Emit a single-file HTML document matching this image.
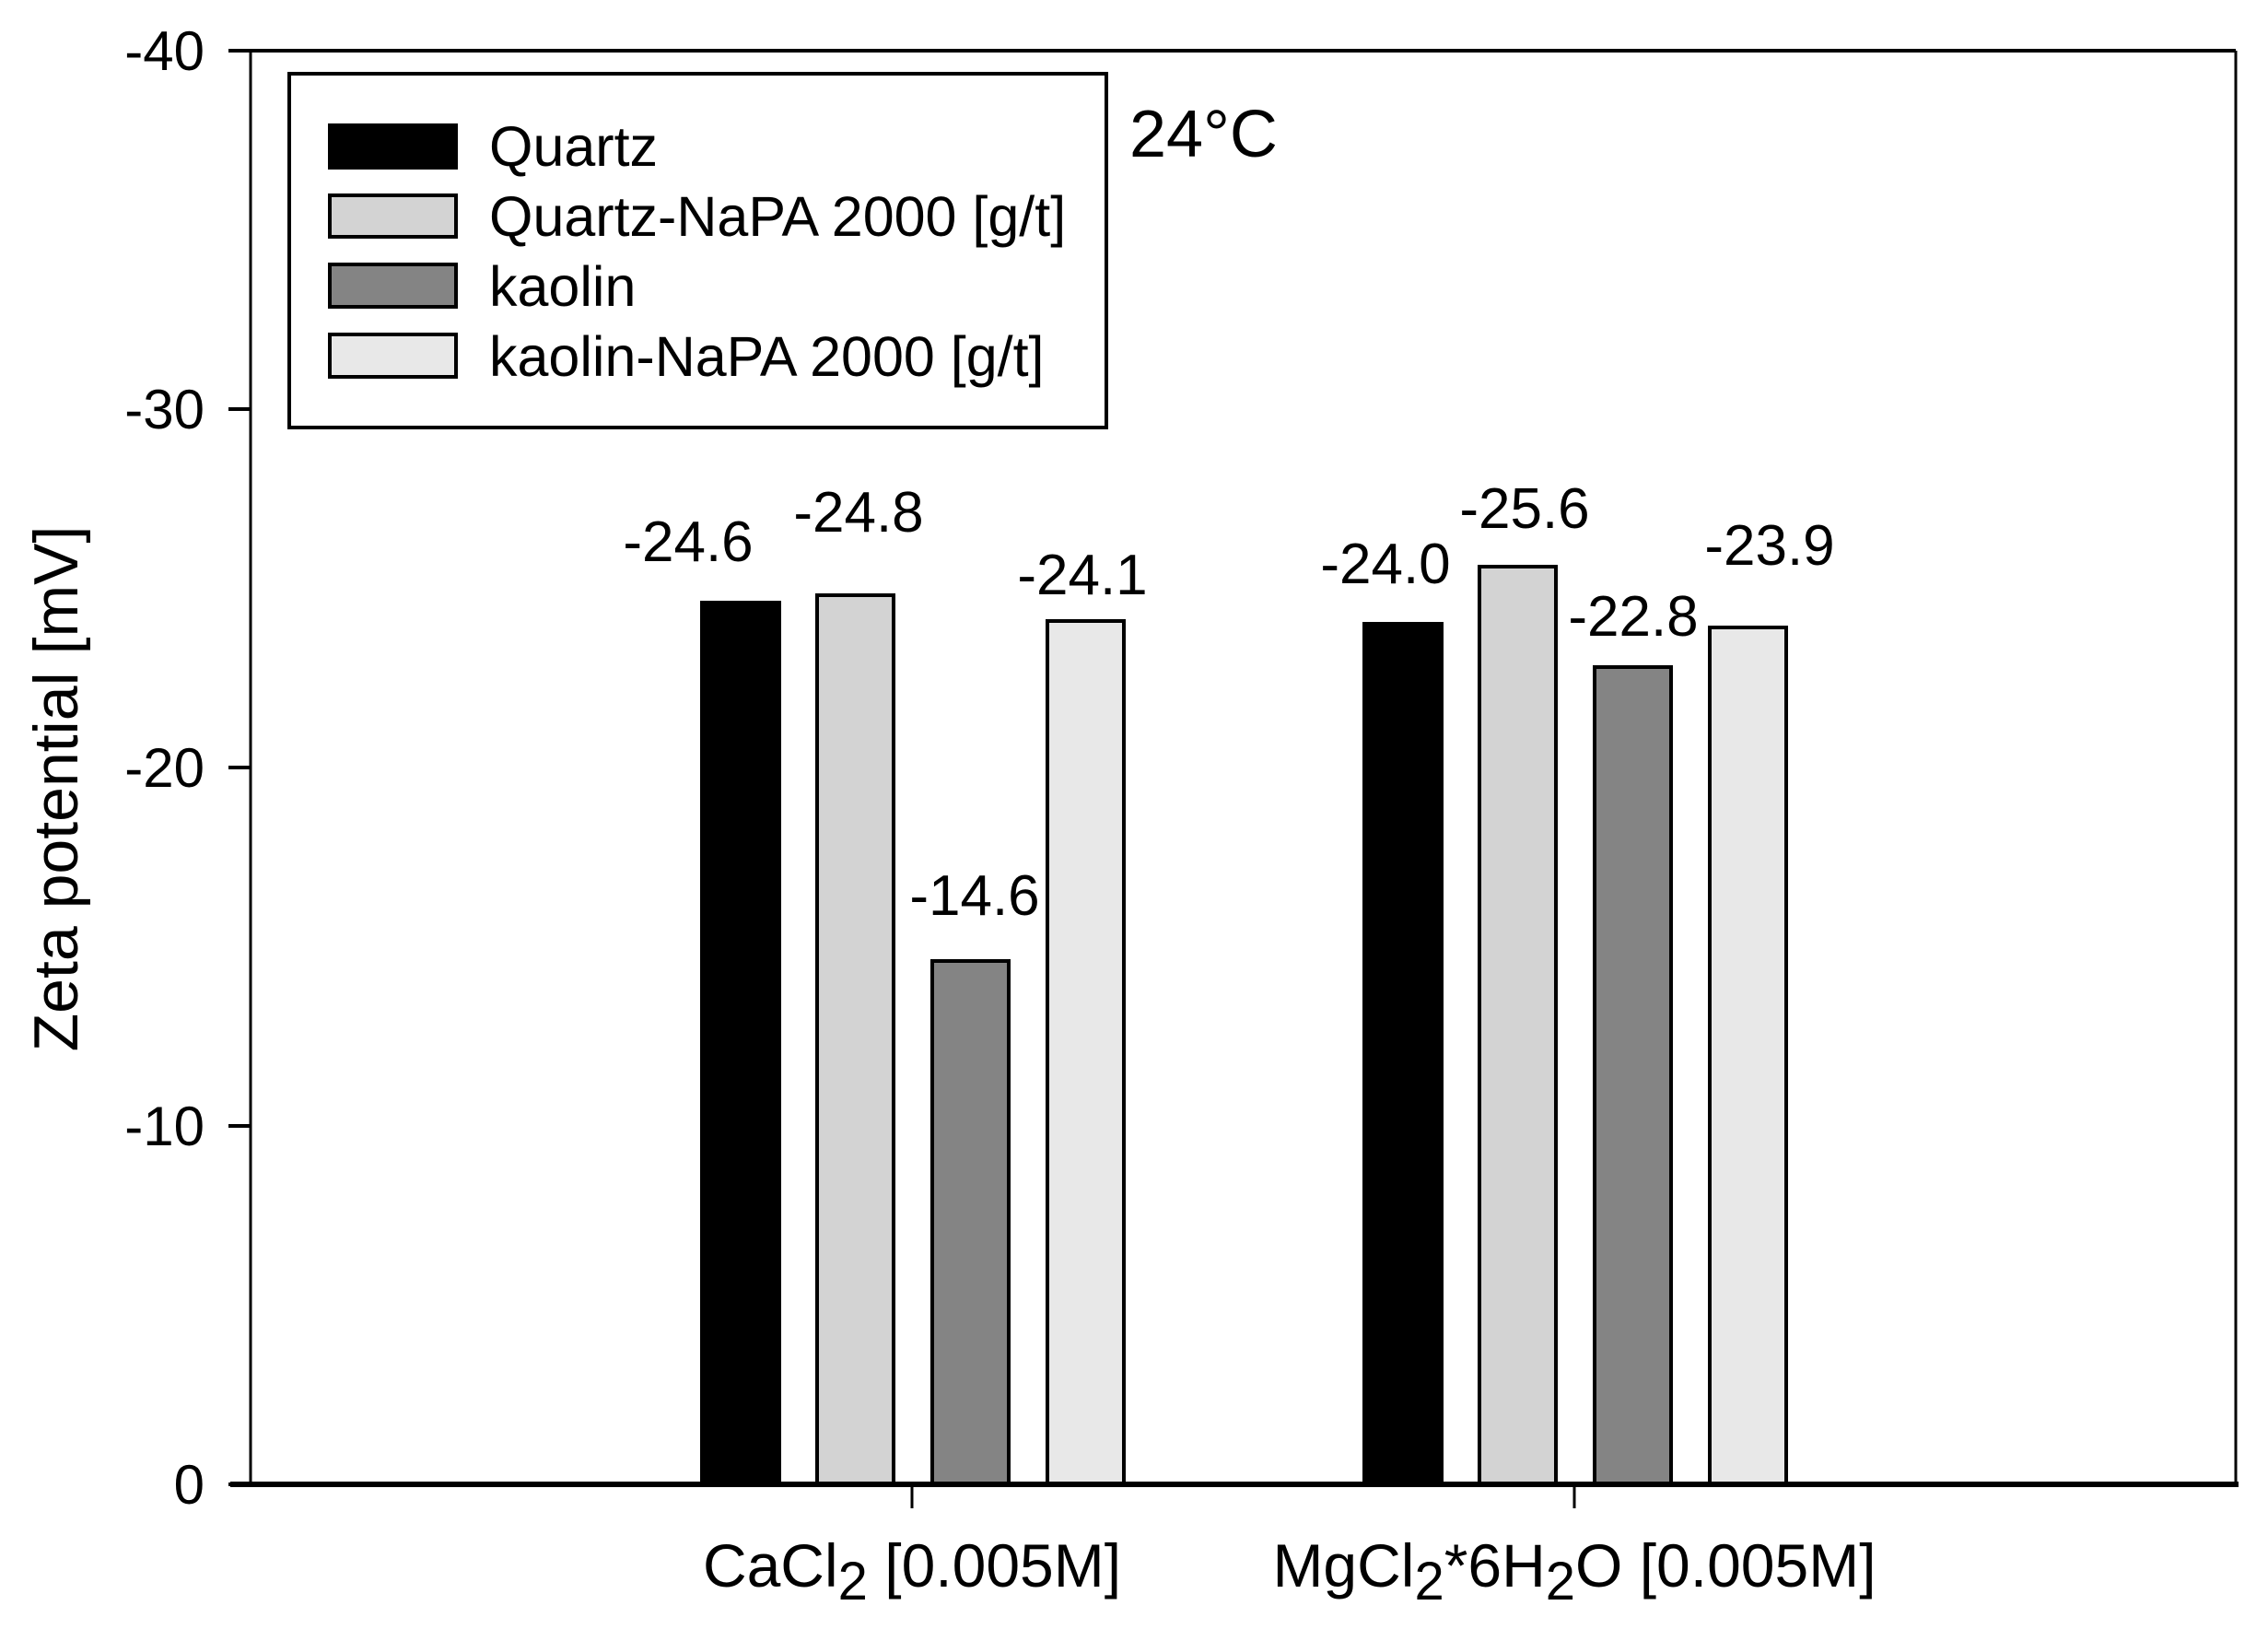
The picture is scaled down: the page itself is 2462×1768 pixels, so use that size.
<!DOCTYPE html>
<html><head><style>body{margin:0;background:#fff}svg{display:block}text{font-family:"Liberation Sans",Arial,sans-serif;fill:#000}</style></head>
<body>
<svg width="2462" height="1768" viewBox="0 0 2462 1768" xmlns="http://www.w3.org/2000/svg">
<rect width="2462" height="1768" fill="#fff"/>
<line x1="272" y1="55" x2="2427" y2="55" stroke="#000" stroke-width="4"/>
<line x1="2427" y1="55" x2="2427" y2="1611" stroke="#000" stroke-width="3"/>
<line x1="272" y1="55" x2="272" y2="1611" stroke="#000" stroke-width="3"/>
<g stroke="#000" stroke-width="4">
<rect x="762" y="654" width="84" height="957" fill="#000"/>
<rect x="887" y="646" width="83" height="965" fill="#d3d3d3"/>
<rect x="1012" y="1043" width="83" height="568" fill="#848484"/>
<rect x="1137" y="674" width="83" height="937" fill="#e8e8e8"/>
<rect x="1481" y="677" width="84" height="934" fill="#000"/>
<rect x="1606" y="615" width="83" height="996" fill="#d3d3d3"/>
<rect x="1731" y="724" width="83" height="887" fill="#848484"/>
<rect x="1856" y="681" width="83" height="930" fill="#e8e8e8"/>
</g>
<line x1="250" y1="1611" x2="2430" y2="1611" stroke="#000" stroke-width="6"/>
<g stroke="#000" stroke-width="4">
<line x1="248" y1="55" x2="272" y2="55"/>
<line x1="248" y1="444" x2="272" y2="444"/>
<line x1="248" y1="833" x2="272" y2="833"/>
<line x1="248" y1="1222" x2="272" y2="1222"/>
<line x1="248" y1="1611" x2="272" y2="1611"/>
<line x1="990" y1="1611" x2="990" y2="1637" stroke-width="3"/>
<line x1="1709" y1="1611" x2="1709" y2="1637" stroke-width="3"/>
</g>
<g font-size="60" text-anchor="end">
<text x="222" y="76">-40</text>
<text x="222" y="465">-30</text>
<text x="222" y="854">-20</text>
<text x="222" y="1243">-10</text>
<text x="222" y="1632">0</text>
</g>
<text transform="translate(84,856) rotate(-90)" font-size="68" text-anchor="middle">Zeta potential [mV]</text>
<text x="990" y="1722" font-size="66" text-anchor="middle">CaCl<tspan font-size="58" dy="14">2</tspan><tspan dy="-14"> [0.005M]</tspan></text>
<text x="1709" y="1722" font-size="66" text-anchor="middle">MgCl<tspan font-size="58" dy="14">2</tspan><tspan dy="-14">*6H</tspan><tspan font-size="58" dy="14">2</tspan><tspan dy="-14">O [0.005M]</tspan></text>
<g font-size="62" text-anchor="middle">
<text x="747" y="609">-24.6</text>
<text x="932" y="577">-24.8</text>
<text x="1058" y="993">-14.6</text>
<text x="1175" y="645">-24.1</text>
<text x="1504" y="633">-24.0</text>
<text x="1655" y="573">-25.6</text>
<text x="1773" y="690">-22.8</text>
<text x="1921" y="613">-23.9</text>
</g>
<rect x="314" y="80" width="887" height="384" fill="#fff" stroke="#000" stroke-width="4"/>
<g stroke="#000" stroke-width="4">
<rect x="358" y="136" width="137" height="46" fill="#000"/>
<rect x="358" y="212" width="137" height="45" fill="#d3d3d3"/>
<rect x="358" y="287" width="137" height="46" fill="#848484"/>
<rect x="358" y="363" width="137" height="46" fill="#e8e8e8"/>
</g>
<g font-size="61">
<text x="531" y="180">Quartz</text>
<text x="531" y="256">Quartz-NaPA 2000 [g/t]</text>
<text x="531" y="332">kaolin</text>
<text x="531" y="408">kaolin-NaPA 2000 [g/t]</text>
</g>
<text x="1226" y="170" font-size="72">24°C</text>
</svg>
</body></html>
